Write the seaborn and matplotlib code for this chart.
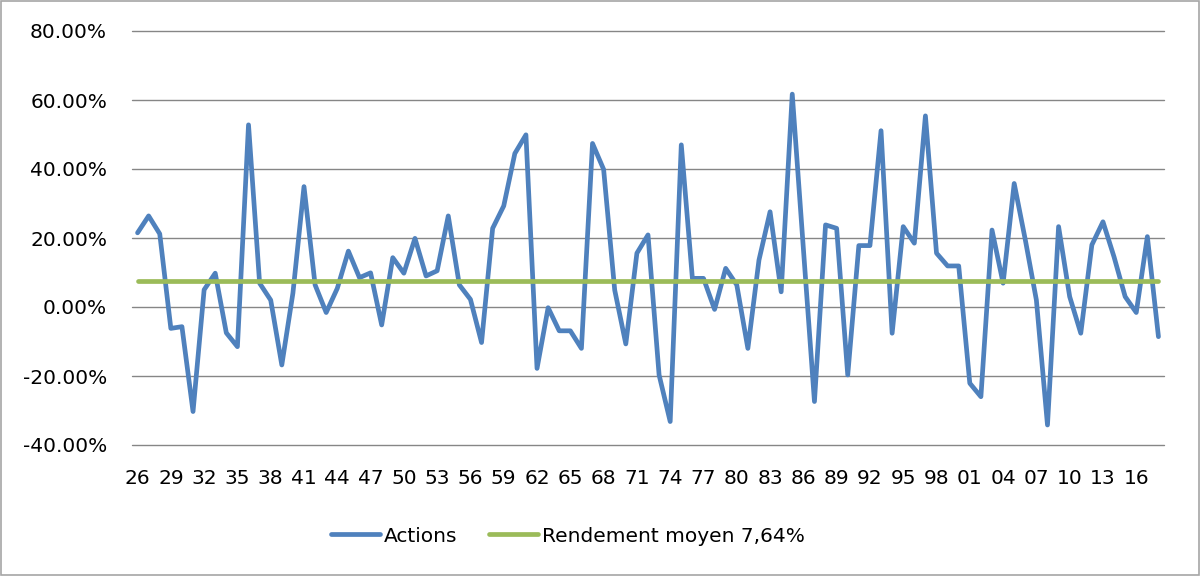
"""
Rendements annuels des actions 1926-2018 et rendement moyen.
"""

import matplotlib
matplotlib.use("Agg")
import matplotlib.pyplot as plt
from matplotlib.patches import Rectangle
from matplotlib.ticker import PercentFormatter
import pandas as pd
import seaborn as sns


# ── Données ───────────────────────────────────────────────────────────────────

years = list(range(1926, 2019))

actions = [
    21.5, 26.4, 21.2, -6.2, -5.7, -30.3, 5.0, 9.8, -7.5, -11.5,      # 1926-1935
    52.8, 6.9, 2.0, -16.8, 4.0, 34.9, 6.4, -1.6, 5.4, 16.2,         # 1936-1945
    8.5, 9.9, -5.2, 14.3, 9.8, 19.9, 9.0, 10.5, 26.4, 6.4,          # 1946-1955
    2.2, -10.3, 22.8, 29.3, 44.5, 49.9, -17.8, -0.2, -6.9, -6.9,    # 1956-1965
    -12.0, 47.4, 39.9, 4.9, -10.7, 15.6, 20.9, -19.7, -33.2, 47.0,  # 1966-1975
    8.3, 8.3, -0.7, 11.2, 6.4, -12.0, 13.6, 27.6, 4.4, 61.7,        # 1976-1985
    17.0, -27.4, 23.8, 22.8, -19.7, 17.8, 17.8, 51.1, -7.6, 23.3,   # 1986-1995
    18.5, 55.4, 15.6, 11.9, 11.9, -22.1, -26.0, 22.3, 6.9, 35.8,    # 1996-2005
    19.5, 2.0, -34.2, 23.3, 3.0, -7.6, 18.0, 24.7, 14.5, 3.0,       # 2006-2015
    -1.6, 20.4, -8.6,                                               # 2016-2018
]

rendement_moyen = 7.64
moyenne = [rendement_moyen] * len(years)

labels = ["Actions", "Rendement moyen 7,64%"]
y_ticks = [-40, -20, 0, 20, 40, 60, 80]

BLUE = "#4F81BD"
GREEN = "#9BBB59"
GRID = "#868686"

df = pd.DataFrame({"annee": years, "actions": actions, "moyenne": moyenne})


# ── Figure ────────────────────────────────────────────────────────────────────

sns.set_theme(style="white")
plt.rcParams["font.family"] = ["DejaVu Sans"]
plt.rcParams["axes.unicode_minus"] = False
plt.rcParams["text.color"] = "black"

fig = plt.figure(figsize=(12.01, 5.76), dpi=100)
ax = fig.add_axes([132 / 1201, 1 - 445 / 576, (1164 - 132) / 1201, (445 - 31) / 576])

sns.lineplot(data=df, x="annee", y="actions", ax=ax, color=BLUE,
             linewidth=3.4, label=labels[0], zorder=3)
sns.lineplot(data=df, x="annee", y="moyenne", ax=ax, color=GREEN,
             linewidth=3.4, label=labels[1], zorder=4)

ax.set_xlim(years[0] - 0.5, years[-1] + 0.5)
ax.set_ylim(y_ticks[0], y_ticks[-1])
ax.set_yticks(y_ticks)
ax.yaxis.set_major_formatter(PercentFormatter(xmax=100, decimals=2))

# une étiquette tous les trois ans, au format "26", "29", ..., "01", ...
tick_years = years[::3]
ax.set_xticks(tick_years)
ax.set_xticklabels([f"{y % 100:02d}" for y in tick_years])

ax.grid(axis="y", color=GRID, linewidth=1.0)
ax.grid(axis="x", visible=False)
# les lignes à -40 % et 80 % tombent sur le bord : on évite qu'elles soient coupées
for line in ax.get_ygridlines():
    line.set_clip_on(False)
for side in ax.spines.values():
    side.set_visible(False)
ax.tick_params(axis="both", length=0, labelsize=14.5, colors="black")
ax.tick_params(axis="y", pad=18)
ax.tick_params(axis="x", pad=17)
ax.set_xlabel("")
ax.set_ylabel("")

# légende en bas, comme dans Excel
ax.get_legend().remove()
handles, _ = ax.get_legend_handles_labels()
for h in handles:
    h.set_solid_capstyle("round")
leg = fig.legend(handles, labels, loc="center", bbox_to_anchor=(568 / 1201, 1 - 536 / 576),
                 ncol=2, frameon=False, fontsize=14.5, handlelength=2.4,
                 handletextpad=0.2, columnspacing=1.6)
for txt in leg.get_texts():
    txt.set_color("black")

# cadre gris autour du graphique
fig.patches.append(Rectangle((0.001, 0.002), 0.997, 0.996, transform=fig.transFigure,
                             fill=False, edgecolor="#A6A6A6", linewidth=1.2))

fig.savefig("out.png", dpi=100)
plt.close(fig)
